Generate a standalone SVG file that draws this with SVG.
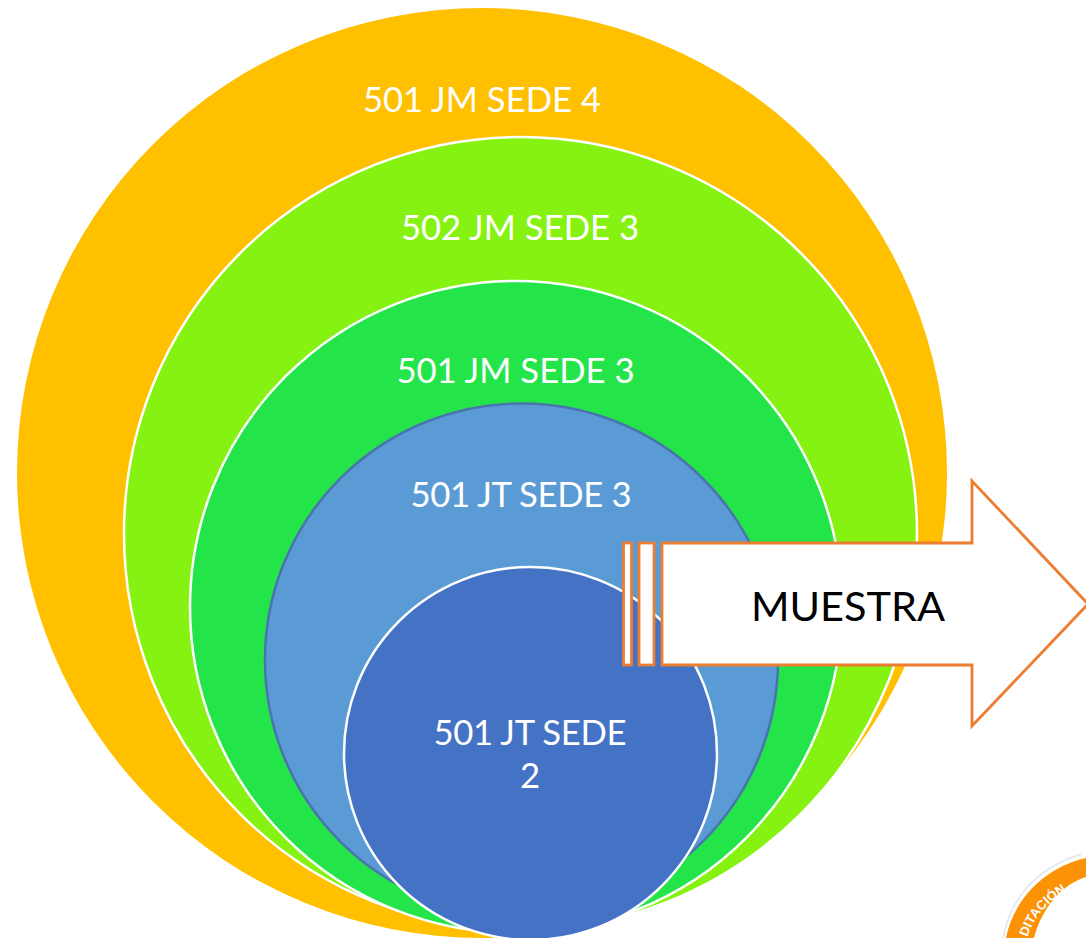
<svg xmlns="http://www.w3.org/2000/svg" width="1086" height="938" viewBox="0 0 1086 938">
<style>
.l{font-family:Lato,"Liberation Sans",sans-serif;font-size:34.7px;fill:#fff;text-anchor:middle}
.w{stroke:#fff;stroke-width:2.5}
.o{fill:#fff;stroke:#ed7d31;stroke-width:2.8}
</style>
<defs><path id="arc" d="M1027 938C1034 916 1048 900 1076 886"/></defs>
<rect width="1086" height="938" fill="#fff"/>
<g id="logo">
<path d="M1003 938C1010 900 1035 868 1082 854" fill="none" stroke="#e4e4ea" stroke-width="1.500"/>
<path d="M1006 938C1013 902 1042 868 1086 858V877C1062 884 1042 908 1034 938Z" fill="#fc9206"/>
<text font-family="'Liberation Sans',sans-serif" font-size="13" font-weight="700" fill="#fff"><textPath href="#arc" startOffset="1">DITACIÓN</textPath></text>
</g>
<g id="n-501-jm-sede-4"><circle cx="482" cy="473" r="465" fill="#ffc000"/><text class="l" x="482" y="112">501 JM SEDE 4</text></g>
<g id="n-502-jm-sede-3"><circle class="w" cx="520.5" cy="533.500" r="396.500" fill="#86f211"/><text class="l" x="520" y="240">502 JM SEDE 3</text></g>
<g id="n-501-jm-sede-3"><circle class="w" cx="516" cy="607" r="326" fill="#23e54a"/><text class="l" x="515.500" y="383">501 JM SEDE 3</text></g>
<g id="n-501-jt-sede-3"><circle cx="521.5" cy="660" r="256.500" fill="#5b9bd5" stroke="#4a74ad" stroke-width="2.500"/><text class="l" x="521" y="507" textLength="221">501 JT SEDE 3</text></g>
<g id="n-501-jt-sede-2"><circle class="w" cx="530.5" cy="753.500" r="186.500" fill="#4472c4"/><text class="l" x="530" y="745" textLength="193">501 JT SEDE</text><text class="l" x="530" y="788">2</text></g>
<g id="n-muestra">
<rect class="o" x="623.500" y="543" width="8" height="122"/>
<rect class="o" x="639" y="543" width="15" height="122"/>
<path class="o" d="M662 543H972V481L1088 604L972 726V665H662Z"/>
<text x="848" y="621" font-family="Lato,'Liberation Sans',sans-serif" font-size="41.500" fill="#000" text-anchor="middle">MUESTRA</text>
</g>
<g id="connectors"></g>
</svg>
